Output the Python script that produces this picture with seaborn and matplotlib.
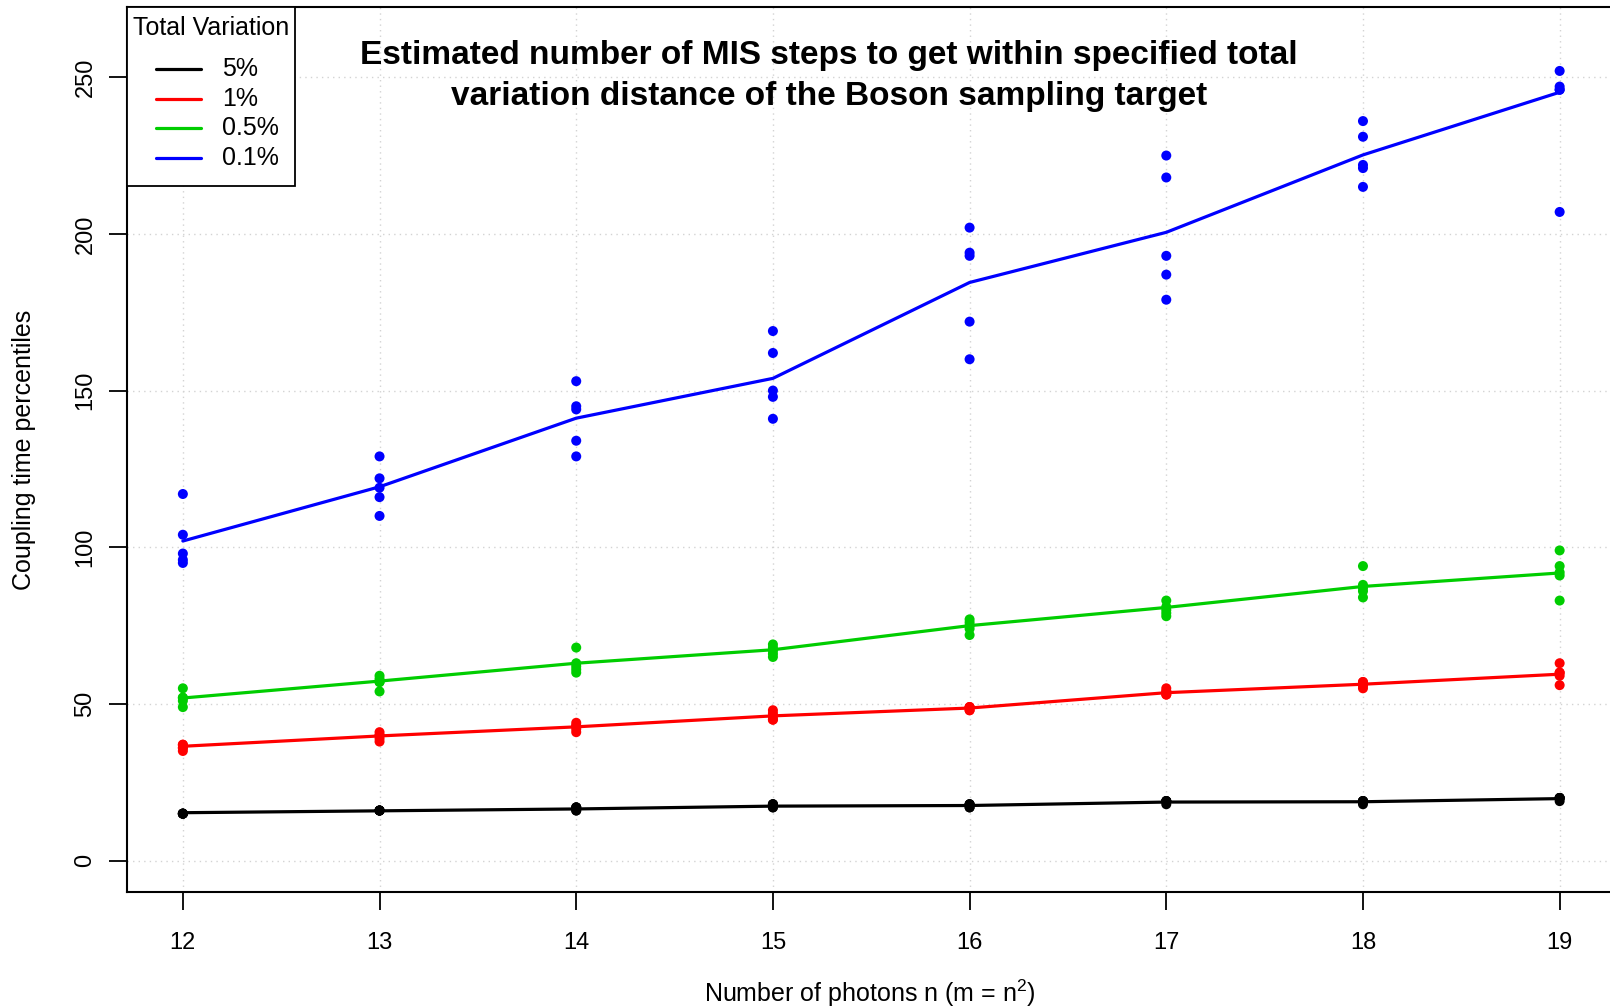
import matplotlib
matplotlib.use("Agg")
import matplotlib.pyplot as plt
import seaborn as sns
import pandas as pd
from matplotlib.lines import Line2D
from matplotlib.patches import Rectangle

# ---------------- data ----------------
photons = [12, 13, 14, 15, 16, 17, 18, 19]
levels = ["5%", "1%", "0.5%", "0.1%"]
colors = ["#000000", "#FF0000", "#00CD00", "#0000FF"]

# individual percentile points (5 per photon count)
pts_5pct = [[15, 15, 15, 15, 15], [16, 16, 16, 16, 16], [17, 17, 17, 16, 16],
            [18, 17, 18, 17, 18], [18, 17, 18, 17, 18], [19, 19, 19, 18, 19],
            [19, 19, 19, 18, 19], [20, 20, 20, 19, 20]]
pts_1pct = [[37, 37, 36, 36, 35], [41, 40, 40, 39, 38], [44, 43, 43, 42, 41],
            [48, 47, 46, 45, 45], [49, 49, 49, 48, 48], [55, 54, 54, 53, 53],
            [57, 57, 56, 56, 55], [63, 60, 60, 59, 56]]
pts_05pct = [[55, 52, 52, 51, 49], [59, 58, 57, 57, 54], [68, 63, 62, 61, 60],
             [69, 68, 67, 66, 65], [77, 76, 75, 74, 72], [83, 81, 80, 79, 78],
             [94, 88, 87, 86, 84], [99, 94, 92, 91, 83]]
pts_01pct = [[117, 104, 98, 96, 95], [129, 122, 119, 116, 110], [153, 145, 144, 134, 129],
             [169, 162, 150, 148, 141], [202, 194, 193, 172, 160], [225, 218, 193, 187, 179],
             [236, 231, 222, 221, 215], [252, 247, 246, 246, 207]]

# connecting (average) lines
line_5pct = [15.3, 15.9, 16.5, 17.4, 17.6, 18.7, 18.8, 19.8]
line_1pct = [36.5, 39.8, 42.7, 46.2, 48.7, 53.6, 56.3, 59.5]
line_05pct = [51.9, 57.3, 63.0, 67.3, 75.0, 80.8, 87.5, 91.8]
line_01pct = [102.0, 119.3, 141.2, 153.9, 184.5, 200.5, 225.2, 245.2]

title = ("Estimated number of MIS steps to get within specified total\n"
         "variation distance of the Boson sampling target")
xlabel = "Number of photons n (m = n$^2$)"
ylabel = "Coupling time percentiles"
legend_title = "Total Variation"
yticks = [0, 50, 100, 150, 200, 250]

# ---------------- tables ----------------
pt_rows = []
for lev, pts in zip(levels, [pts_5pct, pts_1pct, pts_05pct, pts_01pct]):
    for n, vals in zip(photons, pts):
        for v in vals:
            pt_rows.append({"n": n, "level": lev, "value": v})
points = pd.DataFrame(pt_rows)

ln_rows = []
for lev, ln in zip(levels, [line_5pct, line_1pct, line_05pct, line_01pct]):
    for n, v in zip(photons, ln):
        ln_rows.append({"n": n, "level": lev, "value": v})
lines = pd.DataFrame(ln_rows)

palette = dict(zip(levels, colors))

# ---------------- plot ----------------
sns.set_style("ticks")
plt.rcParams["font.family"] = ["Liberation Sans", "DejaVu Sans"]
plt.rcParams["mathtext.fontset"] = "custom"
plt.rcParams["mathtext.rm"] = "Liberation Sans"
plt.rcParams["text.color"] = "black"
plt.rcParams["axes.labelcolor"] = "black"

W, H = 1610, 1006
fig = plt.figure(figsize=(W / 100, H / 100), dpi=100)
ax = fig.add_axes([127 / W, 114 / H, (W - 127) / W, (999 - 114) / H])

ax.set_xlim(11.716, 19.256)
ax.set_ylim(-10.0, 272.4)

# grid (R style dotted light gray)
for x in photons:
    ax.axvline(x, color="#d3d3d3", lw=1.0, ls=(0, (1, 3)), zorder=0)
for y in yticks:
    ax.axhline(y, color="#d3d3d3", lw=1.0, ls=(0, (1, 3)), zorder=0)

sns.lineplot(data=lines, x="n", y="value", hue="level", palette=palette,
             hue_order=levels, lw=2.3, legend=False, ax=ax, zorder=3,
             estimator=None, sort=True)
sns.scatterplot(data=points, x="n", y="value", hue="level", palette=palette,
                hue_order=levels, s=52, linewidth=0, legend=False, ax=ax, zorder=4)

ax.set_xticks(photons)
ax.set_xticklabels([str(p) for p in photons])
ax.set_yticks(yticks)
ax.set_yticklabels([str(t) for t in yticks], rotation=90, va="center")
ax.tick_params(axis="both", which="major", direction="out", length=13, width=1.3,
               labelsize=17, colors="black", bottom=True, left=True,
               top=False, right=False)
ax.tick_params(axis="x", pad=16)
ax.tick_params(axis="y", pad=9)

for side in ["left", "bottom", "top"]:
    ax.spines[side].set_color("black")
    ax.spines[side].set_linewidth(1.5)
ax.spines["right"].set_visible(False)

ax.set_xlabel("")
ax.set_ylabel("")
fig.text(870 / W, 1 - 993 / H, xlabel, ha="center", va="center", fontsize=18)
fig.text(24 / W, 1 - 450 / H, ylabel, ha="center", va="center",
         fontsize=18, rotation=90)

fig.text(829 / W, 1 - 76 / H, title, ha="center", va="center",
         fontsize=24, fontweight="bold", linespacing=1.38)

# legend (R-style boxed legend in the top-left corner)
fig.add_artist(Rectangle((127 / W, 1 - 186 / H), (295 - 127) / W, (186 - 7) / H,
                         transform=fig.transFigure, facecolor="white",
                         edgecolor="black", lw=1.3, zorder=10))
fig.text(211 / W, 1 - 28 / H, legend_title, ha="center", va="center",
         fontsize=18, zorder=11)
entry_y = [69, 99, 128, 158]
for lev, col, yy in zip(levels, colors, entry_y):
    fig.add_artist(Line2D([156 / W, 201 / W], [1 - yy / H, 1 - yy / H],
                          transform=fig.transFigure, color=col, lw=2.3, zorder=11))
    fig.text(222 / W, 1 - yy / H, lev, ha="left", va="center", fontsize=18, zorder=11)

fig.savefig("out.png", dpi=100)
